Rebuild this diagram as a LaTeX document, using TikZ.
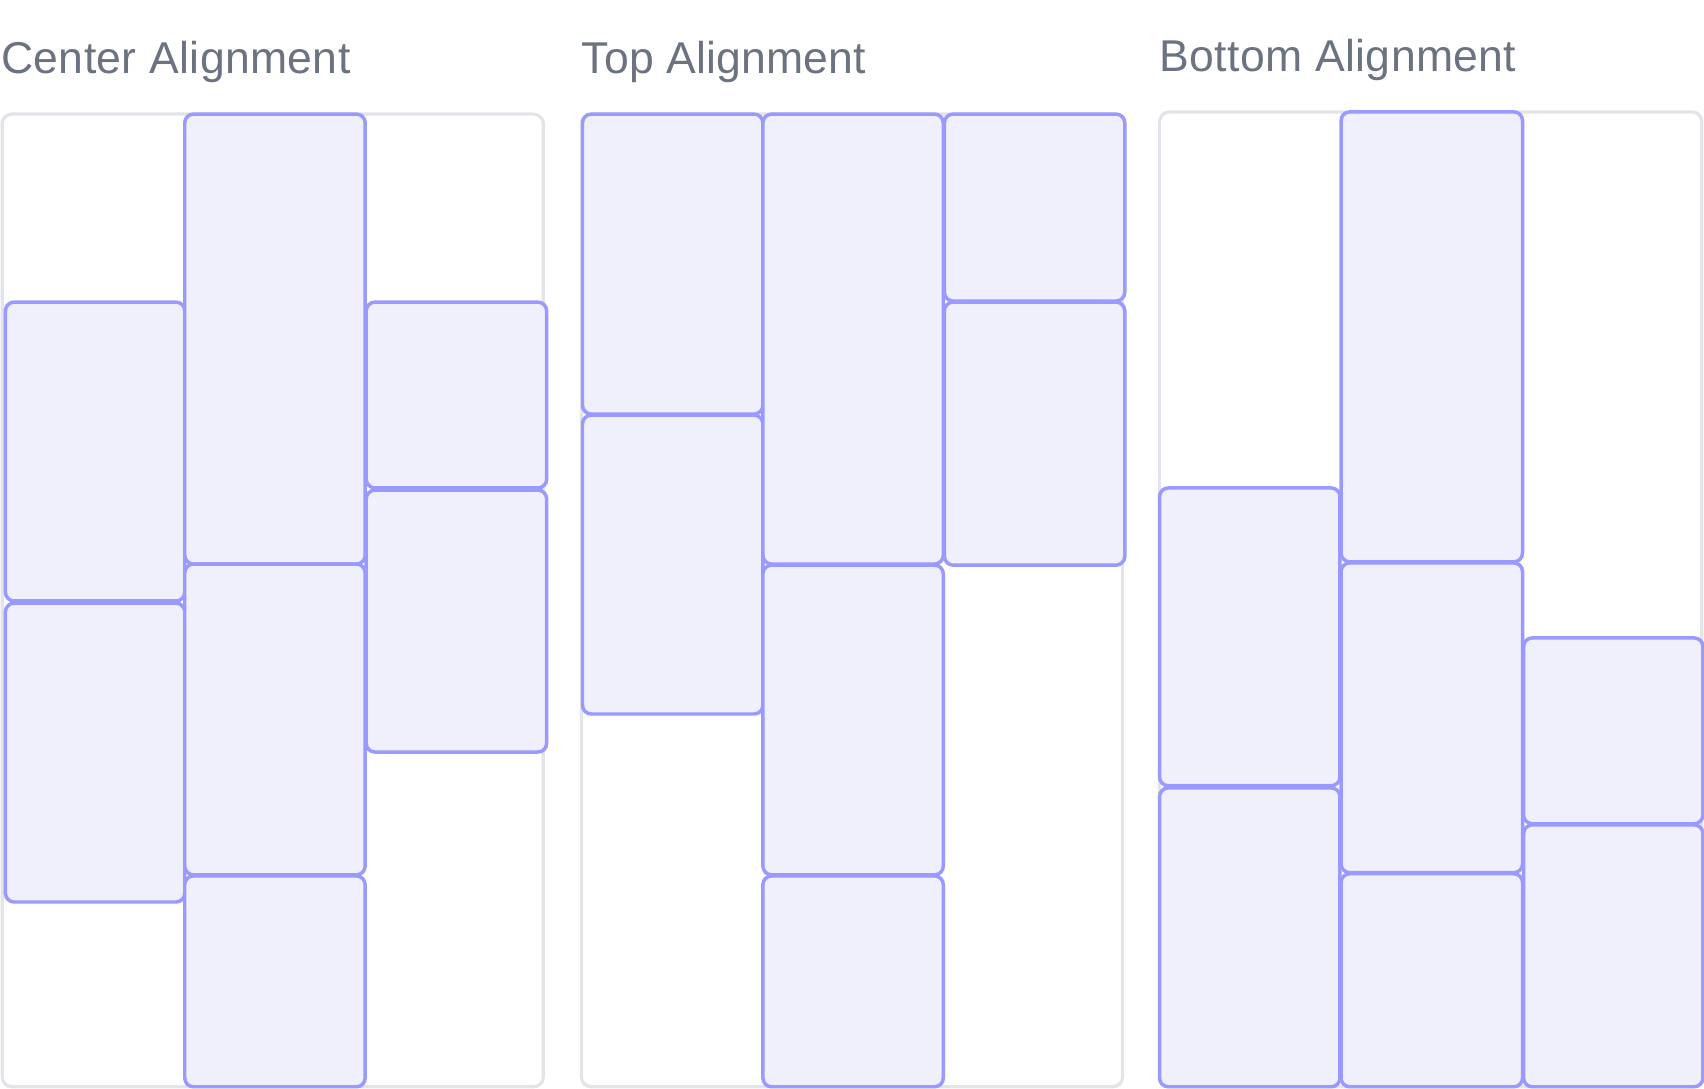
\documentclass[tikz,border=0pt]{standalone}
\usepackage{fontspec}
\setmainfont{Liberation Sans}
\newfontfamily\ttlwide{Liberation Sans}[LetterSpace=0.8]
\newfontfamily\ttlnarrow{Liberation Sans}[LetterSpace=0.5]
\definecolor{ttl}{HTML}{6B7280}
\definecolor{pnl}{HTML}{E3E4EA}
\definecolor{itb}{HTML}{9999FF}
\definecolor{itf}{HTML}{F0F0FD}
\tikzset{
  panel/.style={draw=pnl, line width=3pt, rounded corners=9pt},
  item/.style={draw=itb, fill=itf, line width=3.2pt, rounded corners=8pt, inner sep=0pt, outer sep=0pt},
  ttlnode/.style={anchor=base west, inner sep=0pt, text=ttl}
}
\newcommand\blk[5]{\node[item, minimum width={(#4-#2)*1pt}, minimum height={(#5-#3)*1pt}] (#1) at ({(#2+#4)/2},{-(#3+#5)/2}) {};}
\newcommand\pnlbox[5]{\draw[panel] (#2,-#3) rectangle (#4,-#5); \coordinate (#1) at ({(#2+#4)/2},{-(#3+#5)/2});}
\begin{document}
\begin{tikzpicture}[x=1pt,y=1pt]
\useasboundingbox (0,0) rectangle (1568,-1002);
% titles
\node[ttlnode, font=\ttlwide\fontsize{41}{48}\selectfont] (tc) at (1,-68) {Center Alignment};
\node[ttlnode, font=\ttlnarrow\fontsize{41}{48}\selectfont] (tt) at (535,-68) {Top Alignment};
\node[ttlnode, font=\ttlwide\fontsize{41}{48}\selectfont] (tb) at (1067,-66) {Bottom Alignment};
% panels
\pnlbox{pc}{2}{105}{500}{1000}
\pnlbox{pt}{535}{105}{1033}{1000}
\pnlbox{pb}{1067}{103}{1566}{1000}
% center
\blk{cA1}{5}{278}{170}{553}
\blk{cA2}{5}{555}{170}{830}
\blk{cB1}{170}{105}{336}{519}
\blk{cB2}{170}{519}{336}{805}
\blk{cB3}{170}{806}{336}{1000}
\blk{cC1}{337}{278}{503}{449}
\blk{cC2}{337}{451}{503}{692}
% top
\blk{tA1}{536}{105}{702}{381}
\blk{tA2}{536}{382}{702}{657}
\blk{tB1}{702}{105}{868}{519}
\blk{tB2}{702}{520}{868}{805}
\blk{tB3}{702}{806}{868}{1000}
\blk{tC1}{869}{105}{1035}{277}
\blk{tC2}{869}{278}{1035}{520}
% bottom
\blk{bA1}{1067}{449}{1233}{723}
\blk{bA2}{1067}{725}{1233}{1000}
\blk{bB1}{1234}{103}{1401}{517}
\blk{bB2}{1234}{518}{1401}{803}
\blk{bB3}{1234}{804}{1401}{1000}
\blk{bC1}{1402}{587}{1567}{758}
\blk{bC2}{1402}{759}{1567}{1000}
\end{tikzpicture}
\end{document}
